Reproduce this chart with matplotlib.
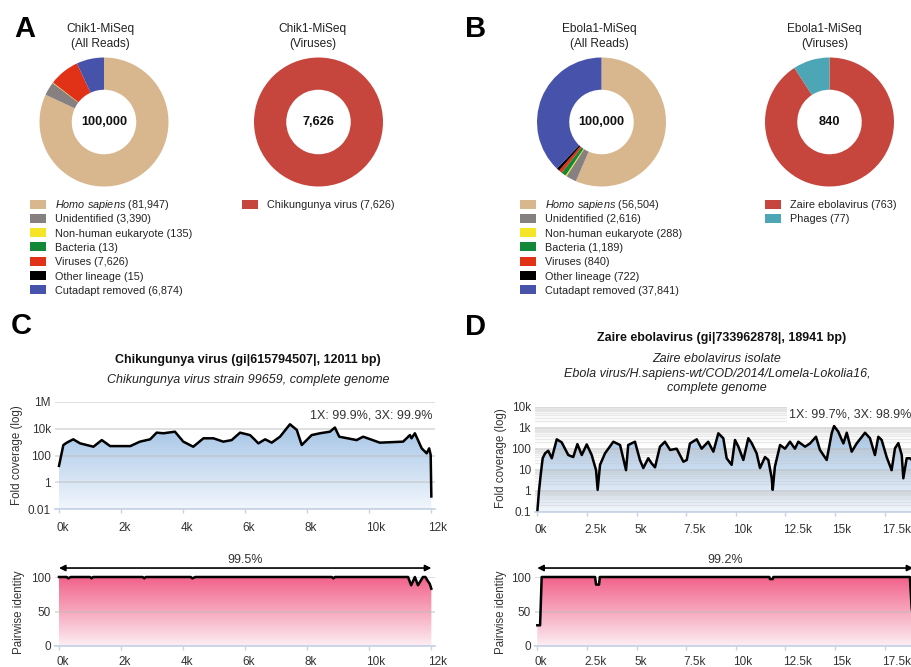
import numpy as np
import matplotlib
matplotlib.use('Agg')
import matplotlib.pyplot as plt
from matplotlib.colors import LinearSegmentedColormap
from matplotlib.patches import Rectangle
from matplotlib.ticker import NullLocator
from matplotlib.transforms import ScaledTranslation

plt.rcParams['font.family'] = ['Liberation Sans', 'DejaVu Sans']
plt.rcParams['mathtext.fontset'] = 'custom'
plt.rcParams['mathtext.it'] = 'Liberation Sans:italic'
plt.rcParams['mathtext.rm'] = 'Liberation Sans'

W, H = 912, 667

# read classification (donuts A / B)
read_labels = [r'$\it{Homo\ sapiens}$', 'Unidentified', 'Non-human eukaryote', 'Bacteria',
               'Viruses', 'Other lineage', 'Cutadapt removed']
read_colors = ['#D8B78F', '#868080', '#F5E526', '#138838', '#E13116', '#000000', '#4752AB']
chik_reads = [81947, 3390, 135, 13, 7626, 15, 6874]
ebola_reads = [56504, 2616, 288, 1189, 840, 722, 37841]

chik_virus_labels = ['Chikungunya virus']
chik_virus_counts = [7626]
chik_virus_colors = ['#C6463E']
ebola_virus_labels = ['Zaire ebolavirus', 'Phages']
ebola_virus_counts = [763, 77]
ebola_virus_colors = ['#C6463E', '#4DA6B5']

# coverage / identity (C)
chik_len = 12011
chik_cov_pos = [0, 140, 250, 460, 680, 1110, 1380, 1650, 2300, 2610, 2940, 3150, 3370, 3740, 4010,
                4330, 4660, 4980, 5300, 5570, 5840, 6160, 6270, 6430, 6650, 6860, 7130, 7450, 7670, 7830,
                8150, 8420, 8740, 8900, 9040, 9600, 9810, 10350, 11100, 11320, 11370, 11480, 11700, 11860,
                11940, 11990, 12011]
chik_cov = [17, 600, 900, 1600, 800, 450, 1400, 500, 500, 1070, 1600, 5000, 4500, 5900, 1070,
            450, 1900, 1900, 1070, 1400, 5000, 3300, 1900, 800, 1600, 900, 2500, 21000, 8000, 600,
            3300, 4500, 5900, 12000, 2500, 1400, 2500, 900, 1070, 3300, 1900, 4500, 340, 145,
            340, 110, 0.09]
chik_id_pos = [0, 250, 300, 380, 1000, 1050, 1100, 2700, 2750, 2800, 4250, 4300, 4400, 8800, 8850,
               8900, 11260, 11360, 11480, 11580, 11740, 11820, 11900, 11960, 12011]
chik_id = [100, 100, 98, 100, 100, 98, 100, 100, 98, 100, 100, 98, 100, 100, 98,
           100, 100, 88, 100, 88, 100, 100, 94, 90, 83]

# coverage / identity (D)
ebola_len = 18941
ebola_cov_pos = [0, 90, 170, 270, 390, 550, 730, 980, 1230, 1560,
                 1810, 2020, 2240, 2490, 2740, 2960, 3040, 3160, 3410, 3830,
                 4170, 4470, 4580, 4920, 5170, 5340, 5590, 5760, 5930, 6180,
                 6430, 6690, 7020, 7360, 7530, 7690, 8030, 8280, 8610, 8870,
                 9120, 9370, 9540, 9790, 9960, 10130, 10380, 10630, 10800, 11050,
                 11220, 11470, 11640, 11810, 11860, 11970, 12230, 12480, 12730, 12980,
                 13150, 13490, 13740, 14040, 14240, 14580, 14830, 14950, 15160, 15420,
                 15590, 15840, 16090, 16510, 16760, 17010, 17180, 17350, 17600, 17850,
                 18020, 18190, 18360, 18440, 18610, 18780, 18941]
ebola_cov = [0.1, 1.1, 5.6, 35, 60, 80, 35, 280, 200, 50,
             40, 165, 50, 160, 50, 9.5, 1.1, 17, 60, 215,
             150, 9.5, 150, 215, 29, 12, 35, 20, 13, 125,
             215, 87, 100, 24, 29, 178, 280, 100, 215, 72,
             540, 315, 35, 17, 260, 125, 29, 315, 185, 60,
             12, 40, 29, 3.9, 1.1, 14, 150, 100, 215, 100,
             215, 125, 178, 370, 87, 29, 540, 1200, 650, 178,
             575, 72, 178, 575, 315, 50, 370, 260, 40, 9.5,
             105, 185, 50, 3.9, 35, 35, 25]
ebola_id_pos = [0, 140, 220, 2910, 2960, 3110, 3150, 11690, 11720, 11860, 11890, 18770, 18860, 18941]
ebola_id = [30, 30, 100, 100, 89, 89, 100, 100, 97, 97, 100, 100, 55, 40]

AXIS_C = '#C5D3E6'
TXT_C = '#333333'

fig = plt.figure(figsize=(W / 100, H / 100), dpi=100)


def box(x0, y0, x1, y1):
    return [x0 / W, 1 - y1 / H, (x1 - x0) / W, (y1 - y0) / H]


def ftext(x, y, s, **kw):
    fig.text(x / W, 1 - y / H, s, **kw)


def donut(cx, counts, colors, center_label, title_x, title):
    r = 64.5
    cy = 122
    ax = fig.add_axes(box(cx - r, cy - r, cx + r, cy + r))
    ax.pie(counts, colors=colors, startangle=90, counterclock=False,
           wedgeprops=dict(width=0.5, linewidth=0))
    ax.set_xlim(-1, 1)
    ax.set_ylim(-1, 1)
    ax.set_aspect('equal')
    ax.axis('off')
    ax.text(0, 0, center_label, ha='center', va='center', fontsize=9.2,
            fontweight='bold', color='#111111')
    ftext(title_x, 29, title[0], ha='center', va='center', fontsize=8.6, color='#222222')
    ftext(title_x, 44, title[1], ha='center', va='center', fontsize=8.6, color='#222222')


def legend(x, labels, counts, colors):
    for i, (lab, n, c) in enumerate(zip(labels, counts, colors)):
        y = 204 + i * 14.33
        fig.add_artist(Rectangle((x / W, 1 - (y + 4.5) / H), 16 / W, 9 / H,
                                 transform=fig.transFigure, facecolor=c, edgecolor='none'))
        ftext(x + 25, y + 4, f'{lab} ({n:,})', va='baseline', fontsize=7.8, color='#222222')


def gradient_fill(ax, x, y, base, top_color, bottom_color):
    poly = ax.fill_between(x, y, base, facecolor='none', edgecolor='none')
    cmap = LinearSegmentedColormap.from_list('g', [bottom_color, top_color])
    img = ax.imshow(np.linspace(0, 1, 256).reshape(-1, 1), cmap=cmap, origin='lower',
                    aspect='auto', extent=[0, 1, 0, 1], transform=ax.transAxes,
                    zorder=1, interpolation='bilinear')
    img.set_clip_path(poly.get_paths()[0], transform=ax.transData)


def style(ax, xticks, xlabels, xpad):
    for s in ['top', 'right', 'left']:
        ax.spines[s].set_visible(False)
    ax.spines['bottom'].set_color(AXIS_C)
    ax.spines['bottom'].set_linewidth(1.2)
    ax.spines['bottom'].set_zorder(4)
    ax.set_xticks(xticks)
    ax.set_xticklabels(xlabels)
    ax.tick_params(axis='x', colors=AXIS_C, length=3, width=1, labelcolor=TXT_C,
                   labelsize=8.5, pad=xpad)
    ax.tick_params(axis='y', length=0, labelcolor=TXT_C, labelsize=8.5, pad=3)
    ax.set_axisbelow('line')
    for lbl in ax.get_xticklabels():
        lbl.set_horizontalalignment('left')
        lbl.set_transform(lbl.get_transform() + ScaledTranslation(-2.5 / 100, 0, fig.dpi_scale_trans))


# ---------------- A / B donuts ----------------
ftext(25, 29, 'A', ha='center', va='center', fontsize=21, fontweight='bold')
ftext(476, 29, 'B', ha='center', va='center', fontsize=21, fontweight='bold')

donut(104, chik_reads, read_colors, f'{sum(chik_reads):,}', 100.8, ['Chik1-MiSeq', '(All Reads)'])
donut(318.5, chik_virus_counts, chik_virus_colors, f'{sum(chik_virus_counts):,}', 312.8,
      ['Chik1-MiSeq', '(Viruses)'])
donut(601.5, ebola_reads, read_colors, f'{sum(ebola_reads):,}', 599.7, ['Ebola1-MiSeq', '(All Reads)'])
donut(829.5, ebola_virus_counts, ebola_virus_colors, f'{sum(ebola_virus_counts):,}', 824.5,
      ['Ebola1-MiSeq', '(Viruses)'])

legend(30, read_labels, chik_reads, read_colors)
legend(242, chik_virus_labels, chik_virus_counts, chik_virus_colors)
legend(520, read_labels, ebola_reads, read_colors)
legend(765, ebola_virus_labels, ebola_virus_counts, ebola_virus_colors)

# ---------------- C ----------------
ftext(21, 326, 'C', ha='center', va='center', fontsize=21, fontweight='bold')
ftext(248, 360, 'Chikungunya virus (gi|615794507|, 12011 bp)', ha='center', va='center',
      fontsize=9, fontweight='bold', color='#111111')
ftext(248, 380, 'Chikungunya virus strain 99659, complete genome', ha='center', va='center',
      fontsize=9, style='italic', color='#222222')

chik_xt = [0, 2000, 4000, 6000, 8000, 10000, 12000]
chik_xl = ['0k', '2k', '4k', '6k', '8k', '10k', '12k']

ax = fig.add_axes(box(55, 401.7, 435, 509.3))
ax.set_yscale('log')
gradient_fill(ax, chik_cov_pos, chik_cov, 0.01, '#8FB6E0', '#F1F6FC')
ax.plot(chik_cov_pos, chik_cov, color='black', lw=1.8, zorder=3, solid_joinstyle='round')
ax.set_xlim(-129, 12129)
ax.set_ylim(0.01, 1e6)
ax.set_yticks([0.01, 1, 100, 1e4, 1e6])
ax.set_yticklabels(['0.01', '1', '100', '10k', '1M'])
ax.yaxis.set_minor_locator(NullLocator())
ax.grid(axis='y', which='major', color='#bdbdbd', alpha=0.55, lw=1.2)
style(ax, chik_xt, chik_xl, 6)
ax.text(chik_len + 50, 3.5e4, '1X: 99.9%, 3X: 99.9%', ha='right', va='bottom', fontsize=9, color=TXT_C)
ftext(17, 455, 'Fold coverage (log)', rotation=90, ha='center', va='center', fontsize=8.3, color=TXT_C)

ax = fig.add_axes(box(55, 577, 435, 646))
gradient_fill(ax, chik_id_pos, chik_id, 0, '#F2628A', '#FDEEF3')
ax.plot(chik_id_pos, chik_id, color='black', lw=1.8, zorder=3, clip_on=False)
ax.set_xlim(-129, 12129)
ax.set_ylim(0, 100)
ax.set_yticks([0, 50, 100])
ax.grid(axis='y', color='#bdbdbd', alpha=0.55, lw=1.2)
style(ax, chik_xt, chik_xl, 4)
ax.annotate('', xy=(0, 113), xytext=(chik_len, 113), annotation_clip=False,
            arrowprops=dict(arrowstyle='<|-|>', color='black', lw=1.2, mutation_scale=9,
                            shrinkA=0, shrinkB=0))
ax.text(chik_len / 2, 125, '99.5%', ha='center', va='center', fontsize=9, color=TXT_C)
ftext(19, 612, 'Pairwise identity', rotation=90, ha='center', va='center', fontsize=8.3, color=TXT_C)

# ---------------- D ----------------
ftext(476, 327, 'D', ha='center', va='center', fontsize=21, fontweight='bold')
ftext(722, 338, 'Zaire ebolavirus (gi|733962878|, 18941 bp)', ha='center', va='center',
      fontsize=9, fontweight='bold', color='#111111')
ftext(717, 359, 'Zaire ebolavirus isolate', ha='center', va='center',
      fontsize=9, style='italic', color='#222222')
ftext(717, 374, 'Ebola virus/H.sapiens-wt/COD/2014/Lomela-Lokolia16,', ha='center', va='center',
      fontsize=9, style='italic', color='#222222')
ftext(717, 388, 'complete genome', ha='center', va='center',
      fontsize=9, style='italic', color='#222222')

ebola_xt = [0, 2500, 5000, 7500, 10000, 12500, 15000, 17500]
ebola_xl = ['0k', '2.5k', '5k', '7.5k', '10k', '12.5k', '15k', '17.5k']

ax = fig.add_axes(box(535, 406.7, 917, 511.7))
ax.set_yscale('log')
gradient_fill(ax, ebola_cov_pos, ebola_cov, 0.1, '#8FB6E0', '#F1F6FC')
ax.plot(ebola_cov_pos, ebola_cov, color='black', lw=1.8, zorder=3, solid_joinstyle='round')
ax.set_xlim(-116, 19129)
ax.set_ylim(0.1, 1e4)
ax.set_yticks([0.1, 1, 10, 100, 1e3, 1e4])
ax.set_yticklabels(['0.1', '1', '10', '100', '1k', '10k'])
minor = [m * 10.0 ** e for e in range(-1, 4) for m in range(2, 10)]
ax.set_yticks(minor, minor=True)
ax.tick_params(axis='y', which='minor', length=0)
ax.grid(axis='y', which='major', color='#b5b5b5', alpha=0.55, lw=1.2)
ax.grid(axis='y', which='minor', color='#c8c8c8', alpha=0.4, lw=1.0)
style(ax, ebola_xt, ebola_xl, 6)
ax.text(ebola_len - 110, 2.2e3, '1X: 99.7%, 3X: 98.9%', ha='right', va='bottom', fontsize=9,
        color=TXT_C, zorder=5,
        bbox=dict(facecolor='white', edgecolor='none', pad=1.5))
ftext(501, 458, 'Fold coverage (log)', rotation=90, ha='center', va='center', fontsize=8.3, color=TXT_C)

ax = fig.add_axes(box(535, 577, 917, 646))
gradient_fill(ax, ebola_id_pos, ebola_id, 0, '#F2628A', '#FDEEF3')
ax.plot(ebola_id_pos, ebola_id, color='black', lw=1.8, zorder=3, clip_on=False)
ax.set_xlim(-116, 19129)
ax.set_ylim(0, 100)
ax.set_yticks([0, 50, 100])
ax.grid(axis='y', color='#bdbdbd', alpha=0.55, lw=1.2)
style(ax, ebola_xt, ebola_xl, 4)
ax.annotate('', xy=(0, 113), xytext=(ebola_len, 113), annotation_clip=False,
            arrowprops=dict(arrowstyle='<|-|>', color='black', lw=1.2, mutation_scale=9,
                            shrinkA=0, shrinkB=0))
ax.text(ebola_len / 2, 125, '99.2%', ha='center', va='center', fontsize=9, color=TXT_C)
ftext(501, 612, 'Pairwise identity', rotation=90, ha='center', va='center', fontsize=8.3, color=TXT_C)

fig.savefig('out.png', dpi=100)
